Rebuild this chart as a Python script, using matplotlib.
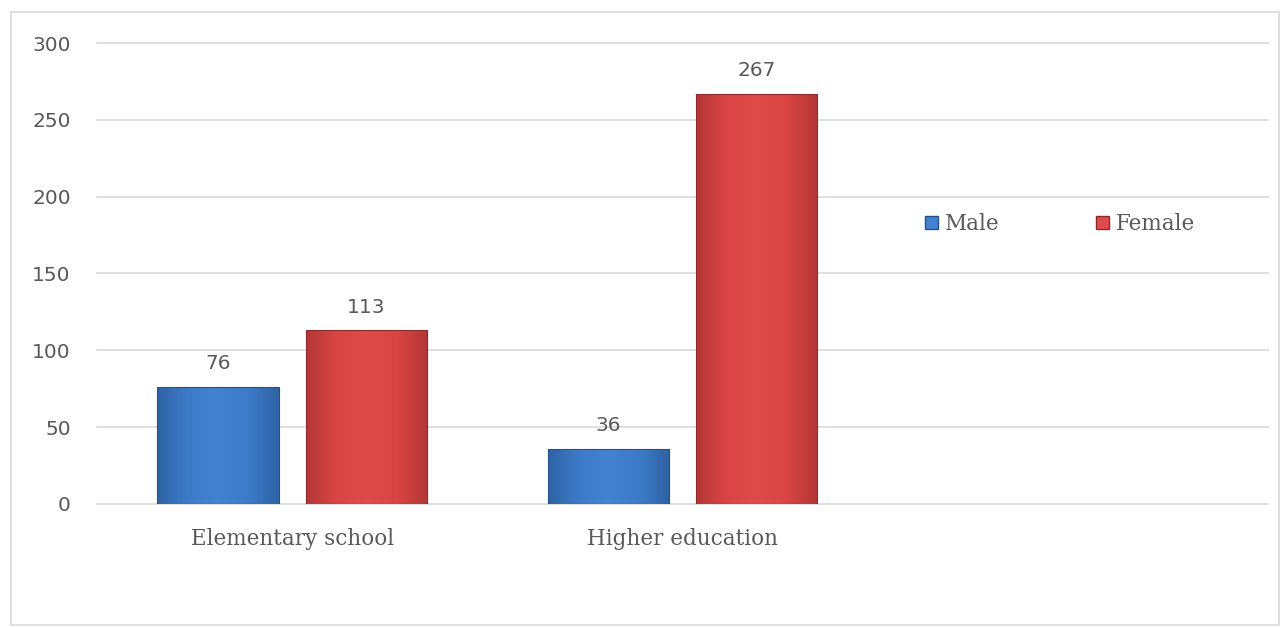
import numpy as np
import matplotlib
matplotlib.use('Agg')
import matplotlib.pyplot as plt
import matplotlib.patches as mpatches
from matplotlib.colors import LinearSegmentedColormap

# chart data
categories = ['Elementary school', 'Higher education', '']
male = [76, 36]
female = [113, 267]
series_names = ['Male', 'Female']
y_ticks = [0, 50, 100, 150, 200, 250, 300]

TEXT = '#595959'
GRID = '#d9d9d9'
BLUE = ('#2f62a3', '#3d7bc8', '#4382cf', '#3d7bc8', '#2f62a3')
RED = ('#b33636', '#d94545', '#df4a4a', '#d94545', '#b33636')


def shade_bar(ax, bar, colors):
    # horizontal gradient clipped to the bar, for the bevelled look
    cmap = LinearSegmentedColormap.from_list('g', colors)
    x0, y0 = bar.get_x(), bar.get_y()
    w, h = bar.get_width(), bar.get_height()
    grad = np.linspace(0, 1, 256).reshape(1, -1)
    im = ax.imshow(grad, cmap=cmap, aspect='auto', zorder=2,
                   extent=[x0, x0 + w, y0, y0 + h], interpolation='bicubic')
    im.set_clip_path(bar)


fig = plt.figure(figsize=(12.82, 6.28), dpi=100)
ax = fig.add_axes([0.0757, 0.1975, 0.9133, 0.734])

x = np.arange(len(male))
bw = 0.311
offset = 0.19

bars_m = ax.bar(x - offset, male, bw, color=BLUE[2], edgecolor='#26528c',
                linewidth=0.8, zorder=3, label=series_names[0])
bars_f = ax.bar(x + offset, female, bw, color=RED[2], edgecolor='#912b2b',
                linewidth=0.8, zorder=3, label=series_names[1])

for b in bars_m:
    b.set_facecolor('none')
    shade_bar(ax, b, BLUE)
for b in bars_f:
    b.set_facecolor('none')
    shade_bar(ax, b, RED)

for bars, vals in ((bars_m, male), (bars_f, female)):
    for b, v in zip(bars, vals):
        ax.text(b.get_x() + b.get_width() / 2, v + 9, str(v),
                ha='center', va='bottom', fontsize=14.5, color=TEXT,
                family='DejaVu Sans')

ax.set_xlim(-0.5, 2.5)
ax.set_ylim(0, 300)
ax.set_yticks(y_ticks)
ax.set_xticks(range(len(categories)))
ax.set_xticklabels(categories, family='DejaVu Serif', fontsize=15.5,
                   color=TEXT)
ax.tick_params(axis='y', labelsize=14.5, labelcolor=TEXT, length=0, pad=19)
ax.tick_params(axis='x', length=0, pad=17)
for lab in ax.get_yticklabels():
    lab.set_family('DejaVu Sans')
ax.grid(axis='y', color=GRID, linewidth=1.2, zorder=0)
for gl in ax.get_ygridlines():
    gl.set_clip_on(False)
ax.set_axisbelow(True)
for s in ax.spines.values():
    s.set_visible(False)

handles = [mpatches.Patch(facecolor=BLUE[2], edgecolor='#26528c'),
           mpatches.Patch(facecolor=RED[2], edgecolor='#912b2b')]
leg = ax.legend(handles, series_names, ncol=2, frameon=False,
                loc='center', bbox_to_anchor=(1060 / 1282, 1 - 224 / 628),
                bbox_transform=fig.transFigure, handlelength=0.6,
                handleheight=0.6, handletextpad=0.3, columnspacing=4.5,
                prop={'family': 'DejaVu Serif', 'size': 15.5})
for t in leg.get_texts():
    t.set_color(TEXT)

# outer frame of the chart area
fig.patches.append(mpatches.Rectangle((11 / 1282, 3 / 628), 1268 / 1282,
                                      613 / 628, transform=fig.transFigure,
                                      fill=False, edgecolor='#d9d9d9',
                                      linewidth=1.2))

fig.savefig('out.png', dpi=100)
